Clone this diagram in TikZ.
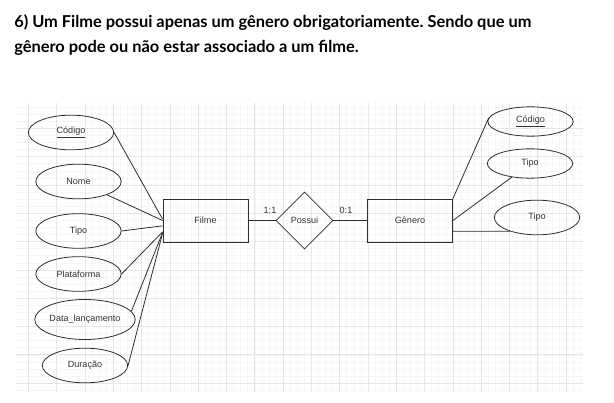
\documentclass[tikz,border=0pt]{standalone}
\usepackage{fontspec}
\setmainfont{Liberation Sans}
\newfontfamily\titlefont{Lato}
\usetikzlibrary{shapes.geometric}
\frenchspacing

\definecolor{gridminor}{RGB}{246,246,246}
\definecolor{gridmajor}{RGB}{230,230,230}
\definecolor{erline}{RGB}{45,45,45}

\tikzset{
    entity/.style={draw=erline, line width=0.6pt, rectangle, minimum width=63.75pt, minimum height=32.25pt, inner sep=0pt, font=\fontsize{6.8}{7.8}\selectfont, text=black!80},
    attr/.style={draw=erline, line width=0.6pt, ellipse, minimum width=64pt, minimum height=26pt, inner sep=0pt, font=\fontsize{6.8}{7.8}\selectfont, text=black!80},
    rel/.style={draw=erline, line width=0.6pt, diamond, minimum width=42.75pt, minimum height=42.75pt, inner sep=0pt, font=\fontsize{6.8}{7.8}\selectfont, text=black!80},
    card/.style={font=\fontsize{6.8}{7.8}\selectfont, text=black!80},
    link/.style={draw=erline, line width=0.6pt},
}

\begin{document}
\begin{tikzpicture}[x=0.75pt, y=-0.75pt]
    \useasboundingbox (0,0) rectangle (614,403);
    % background grid
    \begin{scope}
        \clip (16,103) rectangle (583,392);
        \foreach \i in {0,...,84}
            \draw[gridminor, line width=0.3pt] (566-7.075*\i+28.3*4,103) -- (566-7.075*\i+28.3*4,392);
        \foreach \i in {0,...,48}
            \draw[gridminor, line width=0.3pt] (16,383-7.075*\i+28.3*2) -- (583,383-7.075*\i+28.3*2);
        \foreach \i in {0,...,21}
            \draw[gridmajor, line width=0.4pt] (566-28.3*\i+28.3,103) -- (566-28.3*\i+28.3,392);
        \foreach \i in {0,...,12}
            \draw[gridmajor, line width=0.4pt] (16,383-28.3*\i+28.3) -- (583,383-28.3*\i+28.3);
    \end{scope}

    % title
    \node[anchor=base west, inner sep=0pt, font=\titlefont\bfseries\fontsize{12.3}{14}\selectfont] (title1) at (14,28)
        {6) Um Filme possui apenas um gênero obrigatoriamente. Sendo que um};
    \node[anchor=base west, inner sep=0pt, font=\titlefont\bfseries\fontsize{12.3}{14}\selectfont] (title2) at (14,53)
        {gênero pode ou não estar associado a um filme.};

    % entities and relationship
    \node[entity] (filme) at (205.5,220.5) {Filme};
    \node[entity] (genero) at (410,220.5) {Gênero};
    \node[rel] (possui) at (304.5,220.5) {Possui};
    \node[card] (c11) at (270,210) {1:1};
    \node[card] (c01) at (346,210) {0:1};

    % attributes of Filme
    \node[attr] (fcod) at (71,132.5) {\underline{Código}};
    \node[attr] (fnome) at (78.5,181.5) {Nome};
    \node[attr] (ftipo) at (78.5,231) {Tipo};
    \node[attr] (fplat) at (78.5,274) {Plataforma};
    \node[attr, minimum height=30pt] (fdata) at (85,319.5) {Data\_lançamento};
    \node[attr] (fdur) at (85,365.5) {Duração};

    % attributes of Genero
    \node[attr, minimum height=22pt] (gcod) at (530.5,121.5) {\underline{Código}};
    \node[attr, minimum height=22pt] (gtipo) at (530,163.5) {Tipo};
    \node[attr] (gtipob) at (537,217.5) {Tipo};

    % connectors
    \draw[link] (filme) -- (possui);
    \draw[link] (possui) -- (genero);
    \draw[link] (fcod.east) -- ([yshift=1pt]filme.west);
    \draw[link] (fnome.-25) -- (filme.west);
    \draw[link] (ftipo.east) -- ([yshift=-4pt]filme.west);
    \draw[link] (fplat.east) -- ([yshift=-8.5pt]filme.west);
    \draw[link] (fdata.10) -- ([yshift=-9pt]filme.west);
    \draw[link] (fdur.east) -- ([yshift=-9.5pt]filme.west);
    \draw[link] (genero.north east) -- (gcod.175);
    \draw[link] (genero.east) -- (gtipo.217);
    \draw[link] ([yshift=-8pt]genero.east) -- (gtipob.207);
\end{tikzpicture}
\end{document}
